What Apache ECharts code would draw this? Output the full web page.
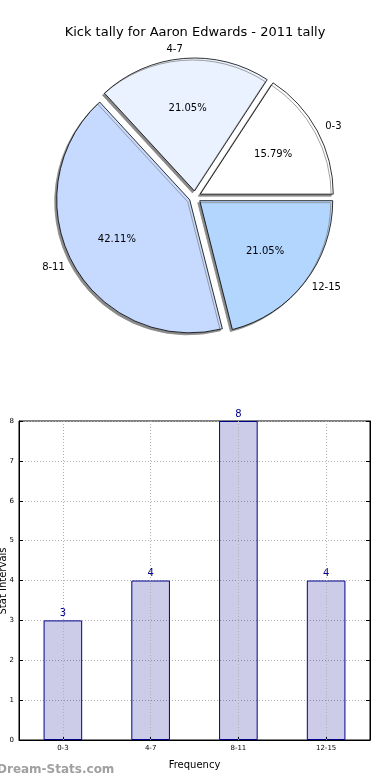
<!DOCTYPE html>
<html>
<head>
<meta charset="utf-8">
<script src="https://cdn.jsdelivr.net/npm/echarts@6/dist/echarts.min.js"></script>
<style>
html,body{margin:0;padding:0;background:#fff;}
#c{width:390px;height:780px;}
</style>
</head>
<body>
<div id="c"></div>
<script>
const title = 'Kick tally for Aaron Edwards - 2011 tally';
const categories = ['0-3', '4-7', '8-11', '12-15'];
const counts = [3, 4, 8, 4];
const yTicks = [0, 1, 2, 3, 4, 5, 6, 7, 8];
const xAxisName = 'Frequency';
const yAxisName = 'Stat Intervals';
const watermark = 'Dream-Stats.com';

const sliceColors = ['#ffffff', '#eaf2ff', '#c6d9ff', '#b3d6ff'];
const font = 'DejaVu Sans';
const total = counts.reduce((a, b) => a + b, 0);
const R = 133;
const C = [195, 197];

const pieData = categories.map((c, i) => ({
  name: c, value: counts[i], selected: true,
  itemStyle: { color: sliceColors[i] }
}));
const pctData = categories.map((c, i) => ({
  name: c, value: counts[i], selected: true,
  itemStyle: { color: 'rgba(0,0,0,0)' }
}));

const chart = echarts.init(document.getElementById('c'), null, { renderer: 'canvas' });
chart.setOption({
  animation: false,
  backgroundColor: '#fff',
  title: {
    text: title, left: 'center', top: 21,
    textStyle: { fontFamily: font, fontSize: 13, fontWeight: 'normal', color: '#000' }
  },
  graphic: [{
    type: 'text', left: -3, top: 764, silent: true,
    style: { text: watermark, fill: '#a0a0a0', font: 'bold 12px "DejaVu Sans"' }
  }, {
    type: 'text', silent: true,
    x: 3, y: 581, rotation: Math.PI / 2,
    style: { text: yAxisName, fill: '#000', font: '10px "DejaVu Sans"',
      align: 'center', verticalAlign: 'middle' }
  }],
  grid: {
    left: 19, right: 20, top: 421, bottom: 40,
    outerBoundsMode: 'none', containLabel: false,
    show: true, borderColor: '#000', borderWidth: 1, backgroundColor: 'transparent'
  },
  xAxis: {
    type: 'category', data: categories,
    name: xAxisName, nameLocation: 'middle', nameGap: 20,
    nameTextStyle: { fontFamily: font, fontSize: 10, color: '#000' },
    axisLine: { lineStyle: { color: '#000' } },
    axisTick: { show: true, inside: true, alignWithLabel: true, length: 4, lineStyle: { color: '#000' } },
    axisLabel: { fontFamily: font, fontSize: 7, color: '#000', margin: 5 },
    splitLine: { show: false }
  },
  yAxis: [{
    type: 'value', min: 0, max: 8, interval: 1,
    axisLine: { show: true, lineStyle: { color: '#000' } },
    axisTick: { show: true, inside: true, length: 4, lineStyle: { color: '#000' } },
    axisLabel: { fontFamily: font, fontSize: 7, color: '#000', margin: 5,
      formatter: v => yTicks.includes(v) ? String(v) : '' },
    splitLine: { show: true, lineStyle: { color: '#b0b0b0', type: [1, 2], width: 1 } }
  }, {
    type: 'value', min: 0, max: 8, interval: 1, position: 'right',
    axisLine: { show: true, lineStyle: { color: '#000' } },
    axisTick: { show: true, inside: true, length: 4, lineStyle: { color: '#000' } },
    axisLabel: { show: false },
    splitLine: { show: false }
  }],
  series: [{
    type: 'pie',
    center: C, radius: R,
    startAngle: 0, clockwise: false,
    selectedMode: 'multiple', selectedOffset: 6,
    silent: true,
    avoidLabelOverlap: false,
    data: pieData,
    itemStyle: {
      borderColor: '#000', borderWidth: 0.8,
      shadowColor: '#8a8a8a', shadowBlur: 0, shadowOffsetX: -2, shadowOffsetY: 2
    },
    label: {
      show: true, position: 'outside', formatter: '{b}',
      fontFamily: font, fontSize: 10, color: '#000', distanceToLabelLine: 0
    },
    labelLine: { show: false, length: 9, length2: 0 },
    emphasis: { disabled: true }
  }, {
    type: 'pie',
    center: C, radius: R * 1.2,
    startAngle: 0, clockwise: false,
    selectedMode: 'multiple', selectedOffset: 6,
    silent: true,
    data: pctData,
    itemStyle: { borderWidth: 0 },
    label: {
      show: true, position: 'inside',
      formatter: p => (p.value / total * 100).toFixed(2) + '%',
      fontFamily: font, fontSize: 10, color: '#000'
    },
    labelLine: { show: false },
    emphasis: { disabled: true }
  }, {
    type: 'bar',
    data: counts,
    barWidth: '44%',
    itemStyle: { color: 'rgba(0,0,139,0.2)', borderColor: '#00008b', borderWidth: 1 },
    label: {
      show: true, position: 'top', distance: 2,
      fontFamily: font, fontSize: 10, color: '#00008b'
    },
    markLine: {
      silent: true, symbol: 'none',
      label: { show: false },
      lineStyle: { color: '#b0b0b0', type: [1, 2], width: 1 },
      data: categories.map(c => ({ xAxis: c }))
    }
  }]
});
</script>
</body>
</html>
